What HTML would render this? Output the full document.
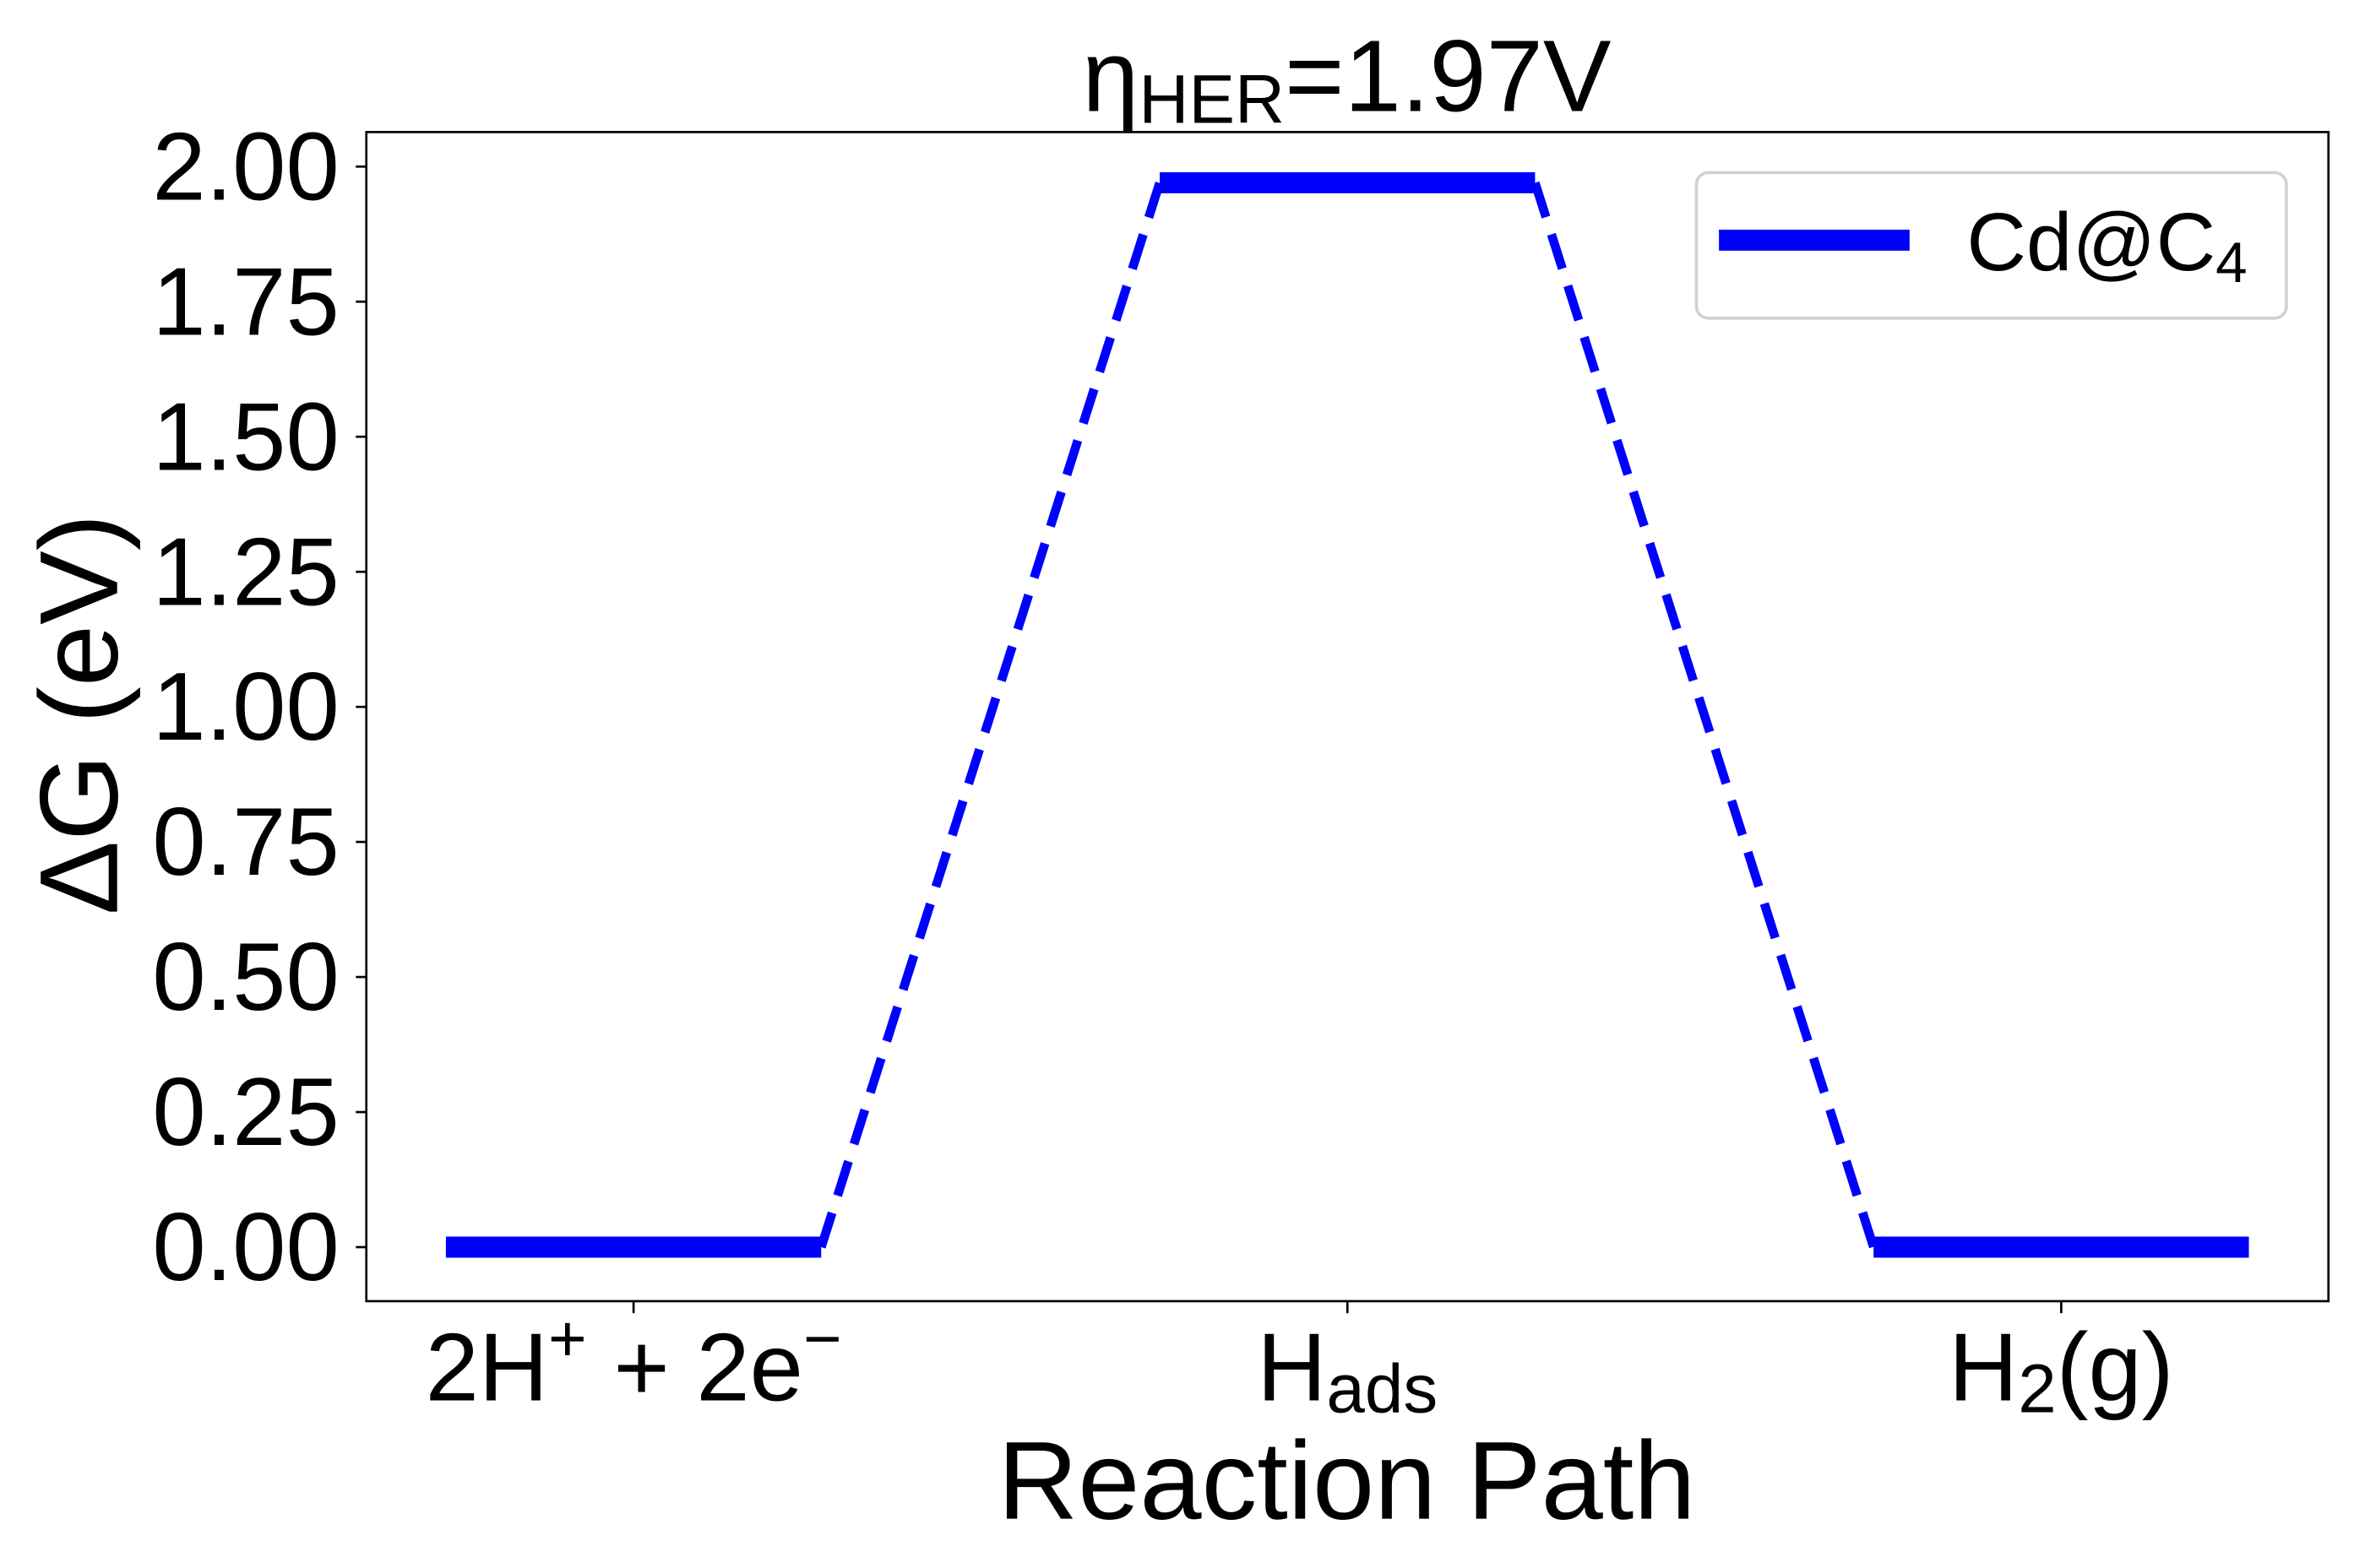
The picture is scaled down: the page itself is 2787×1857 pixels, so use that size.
<!DOCTYPE html>
<html><head><meta charset="utf-8"><style>
html,body{margin:0;padding:0;background:#fff;}
svg{display:block;font-family:"Liberation Sans",Arial,sans-serif;}
</style></head><body>
<svg id="chart" width="2787" height="1857" viewBox="0 0 1568 1044.8" xmlns="http://www.w3.org/2000/svg">
<rect x="0" y="0" width="1568" height="1045" fill="#fff"/>
<g id="plot"></g>
<text x="897" y="74" font-size="68" text-anchor="middle">η<tspan font-size="46" dy="8">HER</tspan><tspan dy="-8">=1.97V</tspan></text>
<text x="897" y="1012" font-size="74" text-anchor="middle">Reaction Path</text>
<text transform="translate(78,476) rotate(-90)" font-size="74" text-anchor="middle">ΔG (eV)</text>
<g>
<rect x="1130" y="115" width="393" height="97" rx="8" fill="#fff" stroke="#d0d0d0" stroke-width="2"/>
<line x1="1145" y1="160" x2="1272" y2="160" stroke="#0000ff" stroke-width="14"/>
<text x="1310" y="180" font-size="55">Cd@C<tspan font-size="38" dy="8">4</tspan></text>
</g>
</svg>
<script>
const categories = ["2H+ + 2e-", "H_ads", "H2(g)"];
const energies = [0, 1.97, 0];
const yTicks = [0, 0.25, 0.5, 0.75, 1.0, 1.25, 1.5, 1.75, 2.0];
const yTickLabels = ["0.00","0.25","0.50","0.75","1.00","1.25","1.50","1.75","2.00"];

const NS = "http://www.w3.org/2000/svg";
const g = document.getElementById("plot");
const L = 244, R = 1551, T = 88, B = 867;
function xs(i){ return 422 + i * 475.5; }
function ys(v){ return 831 - v * 360; }
const halfW = 125;
function mk(tag, attrs){ const e = document.createElementNS(NS, tag); for (const k in attrs) e.setAttribute(k, attrs[k]); g.appendChild(e); return e; }

const frame = mk("rect", {x:L, y:T, width:R-L, height:B-T, fill:"none", stroke:"#000", "stroke-width":1.5});



yTicks.forEach((v, i) => {
  const y = ys(v);
  const t = mk("line", {x1:L-7, y1:y, x2:L, y2:y, stroke:"#000", "stroke-width":1.5});
  
  
  const lb = mk("text", {x:L-18, y:y+22, "font-size":64, "text-anchor":"end"});
  lb.textContent = yTickLabels[i];
  
  
});

categories.forEach((c, i) => {
  const x = xs(i);
  const t = mk("line", {x1:x, y1:B, x2:x, y2:B+8, stroke:"#000", "stroke-width":1.5});
  
  
});
function xlabel(i, html){
  const lb = mk("text", {x:xs(i), y:933, "font-size":64, "text-anchor":"middle"});
  lb.innerHTML = html;
  
  
}
xlabel(0, '2H<tspan font-size="44" dy="-26">+</tspan><tspan dy="26"> + 2e</tspan><tspan font-size="44" dy="-26">−</tspan>');
xlabel(1, 'H<tspan font-size="46" dy="8">ads</tspan>');
xlabel(2, 'H<tspan font-size="46" dy="8">2</tspan><tspan dy="-8">(g)</tspan>');

for (let i = 0; i < energies.length - 1; i++) {
  const d = mk("line", {x1:xs(i)+halfW, y1:ys(energies[i]), x2:xs(i+1)-halfW, y2:ys(energies[i+1]), stroke:"#0000ff", "stroke-width":6, "stroke-dasharray":"24 12"});
  
  
}
energies.forEach((v, i) => {
  const b = mk("line", {x1:xs(i)-halfW, y1:ys(v), x2:xs(i)+halfW, y2:ys(v), stroke:"#0000ff", "stroke-width":14});
  
  
});
</script>
</body></html>
